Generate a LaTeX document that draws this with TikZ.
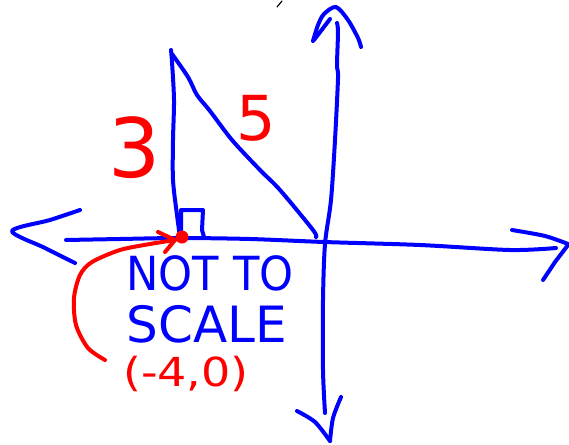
\documentclass[tikz,border=0pt]{standalone}
\usepackage{fontspec}
\setmainfont{DejaVu Sans}
\definecolor{pen}{RGB}{0,0,255}
\definecolor{redpen}{RGB}{255,0,0}
\tikzset{
  bluestroke/.style={draw=pen,line width=4pt,line cap=round,line join=round},
  redstroke/.style={draw=redpen,line width=4pt,line cap=round,line join=round},
  bluetext/.style={text=pen,inner sep=0pt,anchor=base},
  redtext/.style={text=redpen,inner sep=0pt,anchor=base}
}
\begin{document}
\begin{tikzpicture}[x=1pt,y=-1pt]
\useasboundingbox (0,0) rectangle (569,444);
% x axis
\draw[bluestroke] plot[smooth] coordinates {(66,240) (120,239) (180,238) (250,239) (324,242) (420,245) (510,250) (556,248)};
% left arrowhead
\draw[bluestroke] plot[smooth] coordinates {(80,210) (50,220) (12,231) (45,248) (75,263)};
% right arrowhead
\draw[bluestroke] plot[smooth] coordinates {(512,230) (545,236) (568,244)};
\draw[bluestroke] (568,245) -- (555,262) -- (543,280);
% y axis
\draw[bluestroke] plot[smooth] coordinates {(337,23) (338,32) (337,65) (338,78) (335,140) (331,200) (325,244) (323,300) (323,370) (325,413)};
% top arrowhead
\draw[bluestroke] plot[smooth] coordinates {(313,41) (318,25) (324,14) (336,7) (348,20) (358,38) (361,47)};
\draw[bluestroke] (330,19) -- (314,40);
% bottom arrowhead
\draw[bluestroke] plot[smooth] coordinates {(297,411) (315,422) (330,441)};
\draw[bluestroke] plot[smooth] coordinates {(330,441) (333,418) (341,397)};
% triangle vertical leg
\draw[bluestroke] plot[smooth] coordinates {(171,50) (172,62) (174,100) (173,140) (173,180) (177,215) (180,237)};
% hypotenuse
\draw[bluestroke] plot[smooth] coordinates {(172,54) (188,77) (197,95) (210,111) (232,140) (260,170) (280,190) (313,230) (316,237)};
% right-angle box
\draw[bluestroke] (181,237) -- (181,210) -- (203,210) -- (202,230) -- (204,237);
% small black mark at top
\draw[black,line width=1.2pt,line cap=round] (277,7) -- (282,1);
% red point and arrow
\fill[redpen] (182,237) circle (6.5);
\coordinate (P) at (175,240);
\draw[redstroke] plot[smooth] coordinates {(105,360) (88,348) (76,325) (74,298) (80,275) (92,262) (120,250) (150,244) (175,240)};
\draw[redstroke] (158,232) -- (P) -- (165,252);
% labels
\node[redtext] (three) at (135,177) {\fontsize{82}{90}\selectfont 3};
\node[redtext] (five) at (256,140) {\fontsize{62}{68}\selectfont 5};
\node[bluetext] (notto) at (210,290) {\fontsize{47}{52}\selectfont\scalebox{0.92}[1]{NOT TO}};
\node[bluetext] (scale) at (207,342) {\fontsize{50}{55}\selectfont SCALE};
\node[redtext] (coord) at (186,386) {\fontsize{40}{44}\selectfont\scalebox{1.15}[1]{(-4,0)}};
\end{tikzpicture}
\end{document}
